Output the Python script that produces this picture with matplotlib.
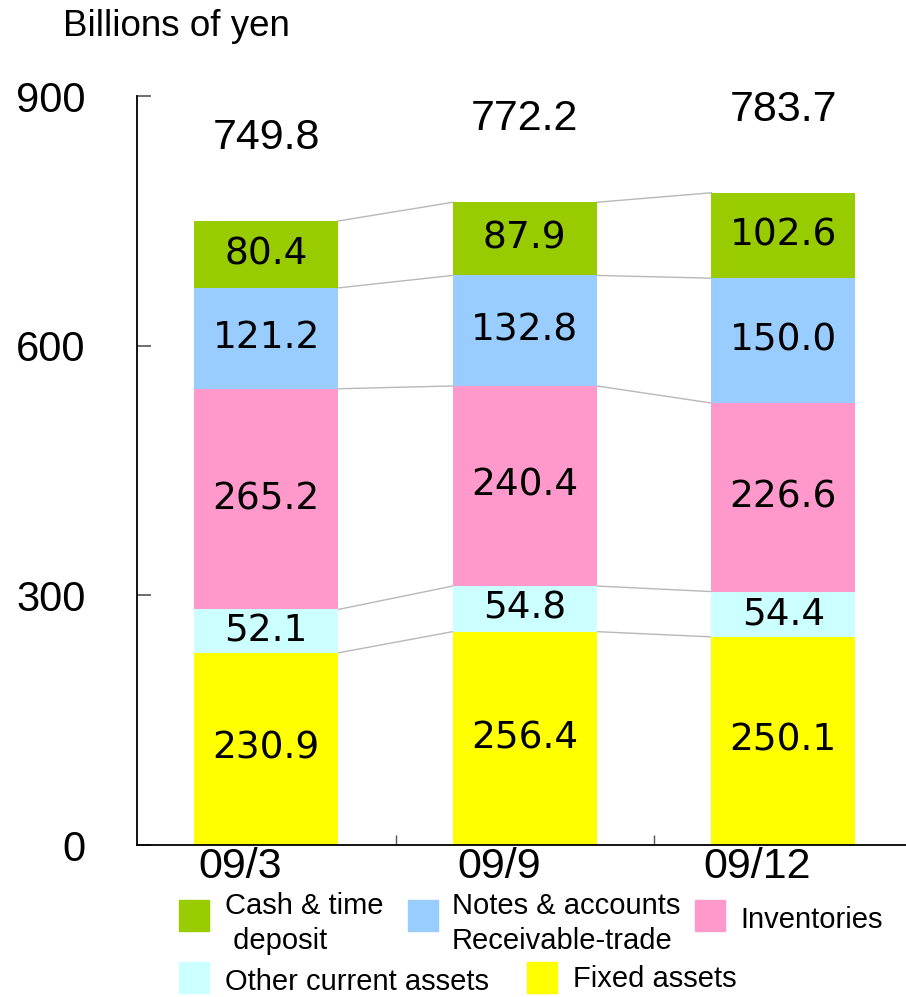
import matplotlib
matplotlib.use("Agg")
import matplotlib.pyplot as plt
from matplotlib.patches import Rectangle
import numpy as np

# Data (billions of yen)
periods = ["09/3", "09/9", "09/12"]
fixed_assets = [230.9, 256.4, 250.1]
other_current = [52.1, 54.8, 54.4]
inventories = [265.2, 240.4, 226.6]
notes_receivable = [121.2, 132.8, 150.0]
cash_deposit = [80.4, 87.9, 102.6]
totals = [749.8, 772.2, 783.7]
yticks = [0, 300, 600, 900]

series = [
    (fixed_assets, "#FFFF00"),
    (other_current, "#CCFFFF"),
    (inventories, "#FF99CC"),
    (notes_receivable, "#99CCFF"),
    (cash_deposit, "#99CC00"),
]

W, H = 906, 997
fig = plt.figure(figsize=(W / 100, H / 100), dpi=100)


def fx(px):
    return px / W


def fy(py):
    return 1 - py / H


ax = fig.add_axes([fx(137), fy(845), (912.5 - 137) / W, (845 - 96) / H])
ax.set_xlim(-0.5, 2.5)
ax.set_ylim(0, 900)

x = np.arange(len(periods))
bw = 0.556
bottom = np.zeros(len(periods))
levels = [bottom.copy()]
for vals, col in series:
    vals = np.array(vals)
    ax.bar(x, vals, bw, bottom=bottom, color=col, edgecolor="none", zorder=2)
    for xi, b, v in zip(x, bottom, vals):
        ax.text(xi, b + v / 2, f"{v:.1f}", ha="center", va="center",
                fontsize=27, family="DejaVu Sans", color="black", zorder=3)
    bottom = bottom + vals
    levels.append(bottom.copy())

# Connector lines between neighbouring bars at each segment boundary
for lvl in levels[1:]:
    for i in range(len(periods) - 1):
        ax.plot([x[i] + bw / 2, x[i + 1] - bw / 2], [lvl[i], lvl[i + 1]],
                color="#b8b8b8", lw=1.0, zorder=1)

# Totals above bars
for xi, t in zip(x, totals):
    ax.text(xi, t + 100, f"{t:.1f}", ha="center", va="center",
            fontsize=31, family="Liberation Sans", color="black")

for s in ["top", "right"]:
    ax.spines[s].set_visible(False)
ax.spines["left"].set_linewidth(1.3)
ax.spines["bottom"].set_linewidth(1.3)

ax.set_yticks(yticks)
ax.set_yticklabels([str(v) for v in yticks], fontsize=30, family="Liberation Sans")
ax.tick_params(axis="y", direction="in", length=10, width=1.2, pad=37, color="#555555")
ax.set_xticks([0.5, 1.5, 2.5])
ax.set_xticklabels([])
ax.tick_params(axis="x", direction="in", length=7, width=1.0, color="#555555")

for xi, lab in zip(x, periods):
    ax.text(xi - 0.1, -2, lab, ha="center", va="top",
            fontsize=31, family="Liberation Sans", color="black")

fig.text(fx(63), fy(27), "Billions of yen", ha="left", va="center",
         fontsize=26.5, family="Liberation Sans")

# Legend: swatch position, then text lines as (x, baseline y, text)
legend_items = [
    ("#99CC00", 179, 900, [(225, 914, "Cash & time"), (225, 949, " deposit")]),
    ("#99CCFF", 408, 900, [(452, 914, "Notes & accounts"), (452, 949, "Receivable-trade")]),
    ("#FF99CC", 695, 900, [(740, 928, "Inventories")]),
    ("#CCFFFF", 179, 962, [(225, 990, "Other current assets")]),
    ("#FFFF00", 527, 962, [(573, 987, "Fixed assets")]),
]
for col, sx, sy, lines in legend_items:
    fig.patches.append(Rectangle((fx(sx), fy(sy + 31)), 30 / W, 31 / H,
                                 transform=fig.transFigure, color=col,
                                 figure=fig))
    for tx, ty, lab in lines:
        fig.text(fx(tx), fy(ty), lab, ha="left", va="baseline", fontsize=21,
                 family="Liberation Sans")

fig.savefig("out.png", dpi=100)
